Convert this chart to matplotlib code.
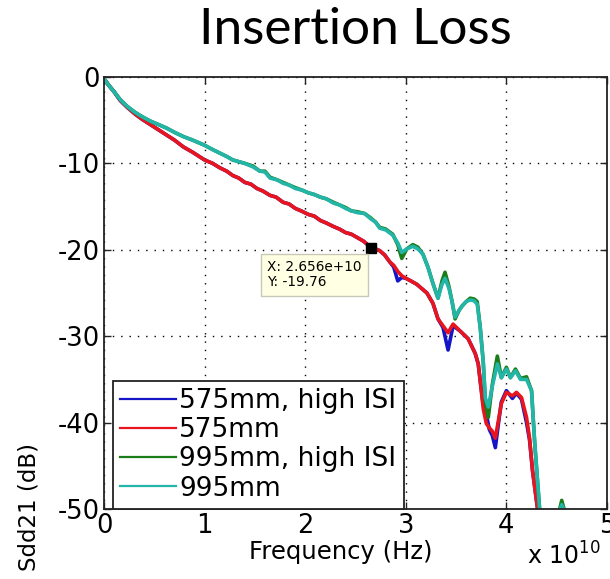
import numpy as np
import matplotlib
matplotlib.use("Agg")
import matplotlib.pyplot as plt
from matplotlib.ticker import FuncFormatter, FixedLocator

plt.rcParams['font.family'] = ['DejaVu Sans']
plt.rcParams['axes.unicode_minus'] = False
plt.rcParams['mathtext.fontset'] = 'dejavusans'

# ---------------- data (frequency in units of 1e10 Hz, Sdd21 in dB) -------------
f_575 = [0.0, 0.05, 0.10, 0.16, 0.23, 0.31, 0.38, 0.46, 0.54, 0.62, 0.70, 0.79, 0.88,
         1.00, 1.08, 1.15, 1.22, 1.28, 1.34, 1.40, 1.46, 1.52, 1.58, 1.65, 1.71, 1.78,
         1.84, 1.90, 1.96, 2.03, 2.09, 2.15, 2.21, 2.28, 2.34, 2.40, 2.46, 2.52, 2.58,
         2.656, 2.70, 2.74, 2.79, 2.84, 2.88, 2.92, 2.96, 3.00, 3.05, 3.11, 3.16, 3.21,
         3.27, 3.32, 3.37, 3.42, 3.47, 3.54, 3.62, 3.69, 3.72, 3.74, 3.77, 3.80, 3.83,
         3.86, 3.89, 3.92, 3.95, 4.00, 4.06, 4.10, 4.15, 4.20, 4.23, 4.26, 4.31, 4.36]
sdd_575 = [-0.2, -1.0, -1.7, -2.7, -3.5, -4.3, -4.9, -5.5, -6.1, -6.7, -7.3, -8.1, -8.7,
           -9.6, -10.0, -10.5, -10.9, -11.4, -11.7, -12.2, -12.4, -12.9, -13.2, -13.7, -13.9, -14.5,
           -14.7, -15.2, -15.5, -15.9, -16.1, -16.6, -16.9, -17.3, -17.6, -18.0, -18.2, -18.6, -19.0,
           -19.76, -19.9, -20.1, -20.6, -21.4, -21.8, -22.5, -23.0, -23.3, -23.6, -24.0, -24.5, -25.0,
           -26.2, -28.0, -28.8, -29.6, -28.6, -29.4, -30.3, -32.0, -33.2, -35.2, -38.4, -40.1, -40.6,
           -41.0, -41.8, -39.8, -37.8, -36.5, -36.9, -36.5, -37.1, -39.4, -41.8, -45.6, -50.0, -53.0]
sdd_575_hisi = [-0.2, -1.0, -1.7, -2.7, -3.5, -4.3, -4.9, -5.5, -6.1, -6.7, -7.3, -8.1, -8.7,
                -9.6, -10.0, -10.5, -10.9, -11.4, -11.7, -12.2, -12.4, -12.9, -13.2, -13.7, -13.9, -14.5,
                -14.7, -15.2, -15.5, -15.9, -16.1, -16.6, -16.9, -17.3, -17.6, -18.0, -18.2, -18.6, -19.0,
                -19.76, -19.9, -20.1, -20.6, -21.4, -22.0, -23.6, -23.2, -23.3, -23.6, -24.0, -24.5, -25.0,
                -26.2, -28.0, -29.0, -31.6, -28.8, -29.4, -30.3, -32.0, -33.2, -35.2, -38.0, -39.0, -40.8,
                -41.5, -42.9, -40.2, -37.6, -36.3, -37.2, -36.6, -37.3, -40.0, -42.0, -45.6, -50.0, -53.0]

f_995 = [0.0, 0.05, 0.10, 0.16, 0.23, 0.31, 0.38, 0.46, 0.54, 0.62, 0.70, 0.79, 0.88,
         1.00, 1.08, 1.15, 1.22, 1.28, 1.34, 1.40, 1.48, 1.55, 1.60, 1.65, 1.72, 1.78,
         1.84, 1.90, 1.97, 2.03, 2.09, 2.15, 2.21, 2.28, 2.34, 2.40, 2.46, 2.52, 2.59,
         2.65, 2.70, 2.74, 2.80, 2.87, 2.92, 2.96, 3.01, 3.07, 3.12, 3.17, 3.22, 3.27,
         3.32, 3.36, 3.39, 3.43, 3.46, 3.49, 3.53, 3.56, 3.60, 3.64, 3.68, 3.71, 3.74,
         3.77, 3.79, 3.82, 3.86, 3.91, 3.95, 4.00, 4.04, 4.09, 4.14, 4.20, 4.25, 4.28,
         4.33, 4.38, 4.45, 4.52, 4.55, 4.58, 4.62]
sdd_995 = [-0.2, -1.0, -1.7, -2.6, -3.4, -4.1, -4.6, -5.1, -5.5, -5.9, -6.4, -6.9, -7.3,
           -7.9, -8.4, -8.8, -9.2, -9.6, -9.8, -10.0, -10.4, -10.9, -11.0, -11.7, -11.9, -12.3,
           -12.5, -12.9, -13.1, -13.4, -13.6, -13.9, -14.1, -14.6, -14.8, -15.2, -15.5, -15.7, -15.8,
           -16.4, -16.8, -17.5, -17.7, -18.3, -19.2, -20.3, -19.9, -19.6, -19.9, -20.5, -22.0, -23.9,
           -25.6, -24.0, -23.3, -24.5, -26.0, -27.8, -27.0, -26.5, -26.0, -25.8, -25.9, -26.3, -29.0,
           -33.0, -37.1, -38.2, -35.8, -33.2, -34.8, -33.8, -34.8, -34.0, -35.0, -35.0, -36.3, -42.1,
           -50.0, -52.0, -52.0, -50.5, -49.5, -50.3, -52.0]
sdd_995_hisi = [-0.2, -1.0, -1.7, -2.6, -3.4, -4.1, -4.6, -5.1, -5.5, -5.9, -6.4, -6.9, -7.3,
                -7.9, -8.4, -8.8, -9.2, -9.6, -9.8, -10.0, -10.3, -10.9, -10.9, -11.6, -11.9, -12.2,
                -12.5, -12.8, -13.1, -13.4, -13.6, -13.9, -14.1, -14.5, -14.8, -15.1, -15.5, -15.6, -15.8,
                -16.3, -16.8, -17.4, -17.6, -18.2, -19.4, -21.0, -19.9, -19.4, -19.7, -20.5, -22.0, -23.9,
                -25.6, -23.6, -22.6, -24.3, -26.0, -28.0, -27.0, -26.5, -26.0, -25.6, -25.7, -26.0, -29.0,
                -33.0, -37.5, -39.4, -35.6, -32.3, -34.8, -33.6, -34.8, -33.8, -34.9, -34.7, -36.3, -42.1,
                -50.0, -52.0, -52.0, -50.5, -49.0, -50.3, -52.0]

labels = ['575mm, high ISI', '575mm', '995mm, high ISI', '995mm']
colors = ['#1515c8', '#e8141e', '#1a7d1a', '#22b5a8']

tip_f = 2.656
tip_db = -19.76

xticks = [0, 1, 2, 3, 4, 5]
yticks = [0, -10, -20, -30, -40, -50]

# ---------------- figure -----------------------------------------------------
W, H = 610, 579
fig = plt.figure(figsize=(W / 100, H / 100), dpi=100)
ax = fig.add_axes([104 / W, 1 - 509 / H, (607 - 104) / W, (509 - 77) / H])

scale = 1e10
series = [(f_575, sdd_575_hisi), (f_575, sdd_575), (f_995, sdd_995_hisi), (f_995, sdd_995)]
for (fx, yy), lab, col in zip(series, labels, colors):
    ax.plot(np.array(fx) * scale, yy, color=col, lw=2.6, label=lab,
            solid_joinstyle='round')

ax.set_xlim(0, 5 * scale)
ax.set_ylim(-50, 0)
ax.xaxis.set_major_locator(FixedLocator([v * scale for v in xticks]))
ax.xaxis.set_major_formatter(FuncFormatter(lambda v, p: f'{v / scale:g}'))
ax.yaxis.set_major_locator(FixedLocator(yticks))
ax.yaxis.set_major_formatter(FuncFormatter(lambda v, p: f'{v:g}'))

ax.tick_params(direction='in', length=5, width=1.0, labelsize=18.5, color='#222222',
               top=True, right=True)
ax.tick_params(axis='x', pad=3)
ax.tick_params(axis='y', pad=3)
for s in ax.spines.values():
    s.set_linewidth(1.3)
    s.set_color('#222222')

ax.grid(True, color='black', linestyle=(0, (1, 5)), linewidth=1.0)

# data tip
ax.plot([tip_f * scale], [tip_db], marker='s', color='black', markersize=7, zorder=5)
ax.annotate(f'X: {tip_f:.3f}e+10\nY: {tip_db:.2f}', xy=(tip_f * scale, tip_db),
            xytext=(-104, -12), textcoords='offset pixels', ha='left', va='top',
            fontsize=9.8, linespacing=1.15,
            bbox=dict(boxstyle='square,pad=0.45', facecolor='#ffffe3', edgecolor='#c8c8b8', lw=1),
            zorder=6)

leg = ax.legend(loc='lower left', bbox_to_anchor=(0.018, 0.0), borderaxespad=0,
                fontsize=19, handlelength=2.1, handletextpad=0.12, labelspacing=0.12,
                borderpad=0.28, frameon=True, fancybox=False, framealpha=1,
                edgecolor='#222222')
leg.get_frame().set_linewidth(1.3)
for h in leg.get_lines():
    h.set_linewidth(1.6)

# labels
fig.text(355 / W, 1 - 30 / H, 'Insertion Loss', ha='center', va='center',
         fontsize=37, family='Lato')
fig.text(341 / W, 1 - 552 / H, 'Frequency (Hz)', ha='center', va='center', fontsize=17.5)
fig.text(29 / W, 1 - 507 / H, 'Sdd21 (dB)', ha='center', va='center', rotation=90,
         fontsize=16.5)
fig.text(527 / W, 1 - 565 / H, r'x 10$^{10}$', ha='left', va='baseline', fontsize=17)

fig.savefig('out.png', dpi=100)
